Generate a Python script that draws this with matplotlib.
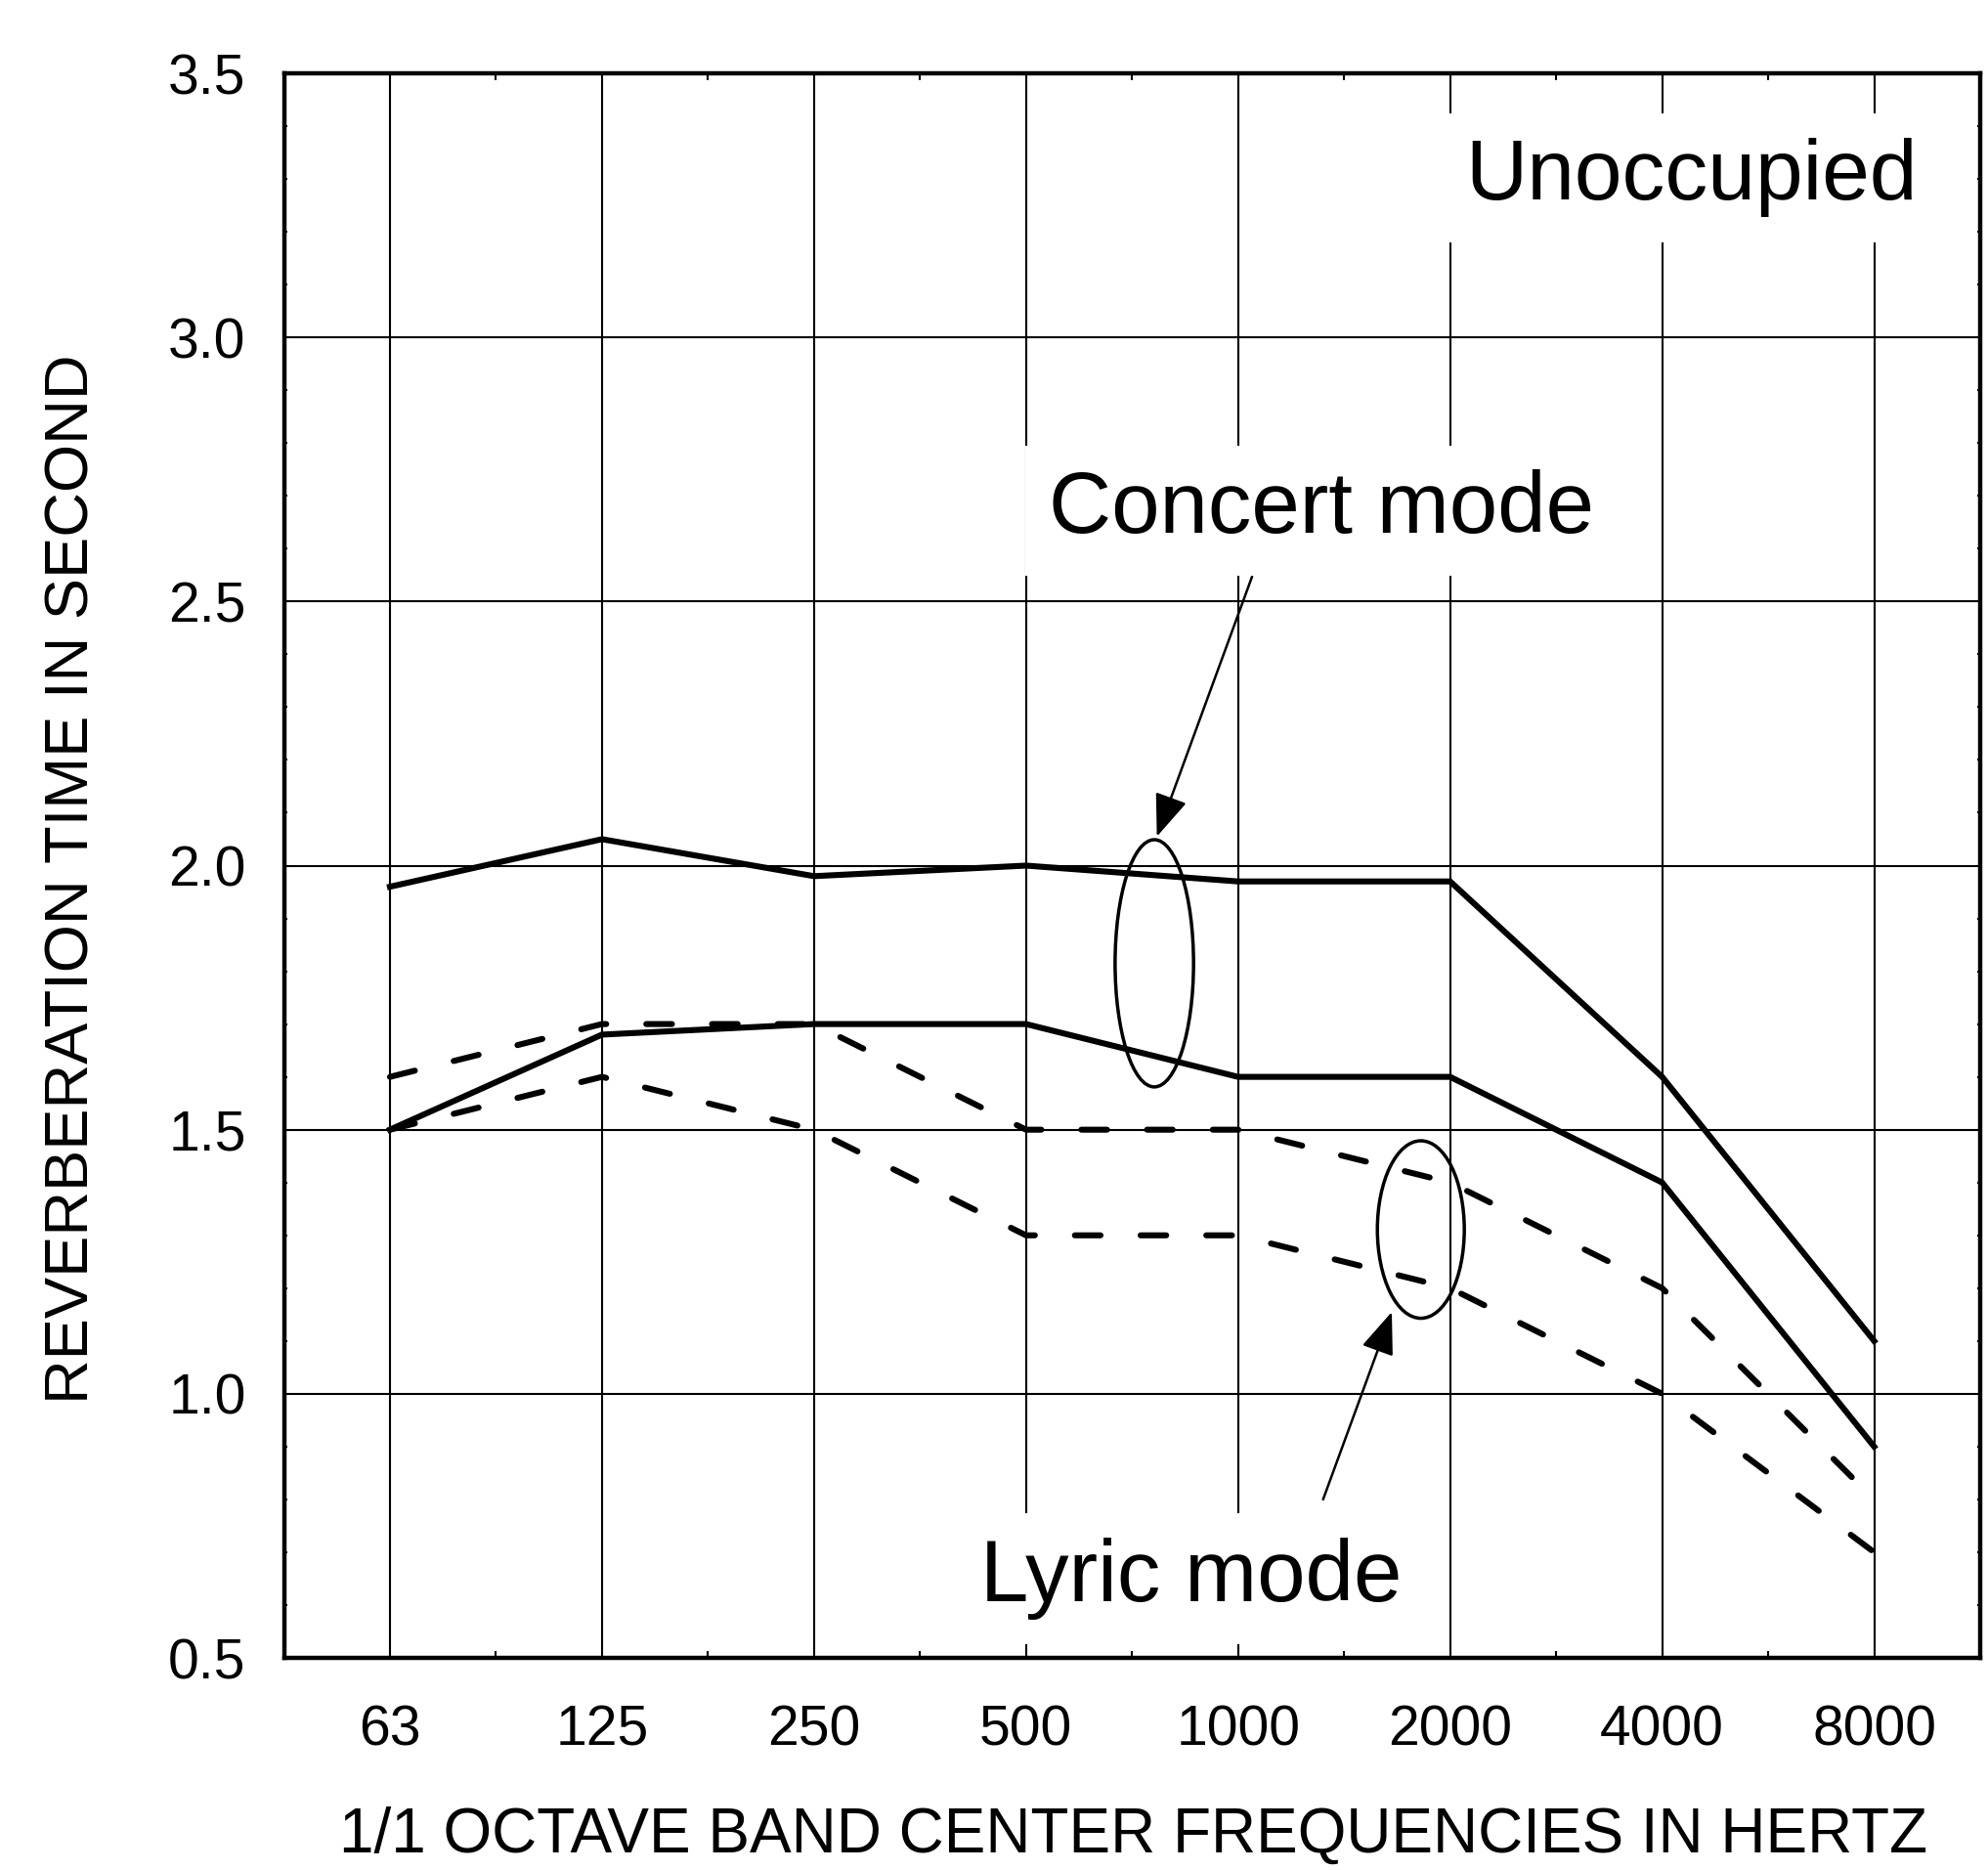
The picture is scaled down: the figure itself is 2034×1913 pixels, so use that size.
import matplotlib
matplotlib.use("Agg")
import matplotlib.pyplot as plt
from matplotlib.patches import Ellipse
from matplotlib.ticker import MultipleLocator, FixedLocator

plt.rcParams['font.family'] = ['Liberation Sans', 'DejaVu Sans']

freqs = ['63', '125', '250', '500', '1000', '2000', '4000', '8000']
concert_upper = [1.96, 2.05, 1.98, 2.00, 1.97, 1.97, 1.60, 1.10]
concert_lower = [1.50, 1.68, 1.70, 1.70, 1.60, 1.60, 1.40, 0.90]
lyric_upper = [1.60, 1.70, 1.70, 1.50, 1.50, 1.40, 1.20, 0.80]
lyric_lower = [1.50, 1.60, 1.50, 1.30, 1.30, 1.20, 1.00, 0.70]
y_ticks = [0.5, 1.0, 1.5, 2.0, 2.5, 3.0, 3.5]

W, H = 2034, 1913
fig = plt.figure(figsize=(W / 100, H / 100), dpi=100)
ax = fig.add_axes([290.5 / W, 1 - 1696 / H, (2026 - 290.5) / W, (1696 - 75) / H])

x = list(range(len(freqs)))
ax.set_xlim(-0.5, len(freqs) - 0.5)
ax.set_ylim(0.5, 3.5)

# grid
for xi in x:
    ax.axvline(xi, color='black', lw=1.5, zorder=1)
for yv in y_ticks[1:-1]:
    ax.axhline(yv, color='black', lw=1.5, zorder=1)

lw = 4.4
ax.plot(x, concert_upper, color='black', lw=lw, solid_joinstyle='miter', zorder=3)
ax.plot(x, concert_lower, color='black', lw=lw, solid_joinstyle='miter', zorder=3)
for series in (lyric_upper, lyric_lower):
    ax.plot(x, series, color='black', lw=lw, linestyle=(0, (4.3, 6.7)),
            dash_capstyle='round', zorder=3)

# ellipses
ax.add_patch(Ellipse((3.605, 1.815), 0.37, 0.468, fill=False, lw=2.5,
                     edgecolor='black', zorder=4))
ax.add_patch(Ellipse((4.862, 1.311), 0.41, 0.336, fill=False, lw=2.5,
                     edgecolor='black', zorder=4))

# arrows
ap = dict(arrowstyle='-|>,head_length=0.9,head_width=0.35', color='black',
          lw=1.8, shrinkA=0, shrinkB=0, mutation_scale=30)
ax.annotate('', xy=(3.617, 2.055), xytext=(4.066, 2.547), arrowprops=ap, zorder=5)
ax.annotate('', xy=(4.725, 1.155), xytext=(4.401, 0.80), arrowprops=ap, zorder=5)

box = dict(facecolor='white', edgecolor='none', pad=18)
ax.text(6.138, 3.302, 'Unoccupied', fontsize=63, ha='center', va='center',
        bbox=box, zorder=6)
ax.text(4.395, 2.672, 'Concert mode', fontsize=64, ha='center', va='center',
        bbox=box, zorder=6)
ax.text(3.778, 0.65, 'Lyric mode', fontsize=64, ha='center', va='center',
        bbox=box, zorder=6)

# ticks
ax.set_xticks(x)
ax.set_xticklabels(freqs)
ax.set_yticks(y_ticks)
ax.set_yticklabels([f'{v:.1f}' for v in y_ticks])
ax.xaxis.set_minor_locator(FixedLocator([i + 0.5 for i in x[:-1]]))
ax.yaxis.set_minor_locator(MultipleLocator(0.1))
ax.tick_params(axis='both', which='major', length=0, labelsize=41)
ax.tick_params(axis='y', which='major', pad=28)
ax.tick_params(axis='x', which='major', pad=34)
ax.tick_params(axis='x', which='minor', direction='in', length=5, width=1.5,
               top=True)
ax.tick_params(axis='y', which='minor', direction='in', length=2.5, width=1.5,
               right=True)

for s in ax.spines.values():
    s.set_linewidth(3.2)
    s.set_zorder(7)

fig.text(1160 / W, 1 - 1878 / H, '1/1 OCTAVE BAND CENTER FREQUENCIES IN HERTZ',
         fontsize=46, ha='center', va='center')
fig.text(74 / W, 1 - 899 / H, 'REVERBERATION TIME IN SECOND', fontsize=45.5,
         ha='center', va='center', rotation=90)

fig.savefig('out.png', dpi=100, facecolor='white')
